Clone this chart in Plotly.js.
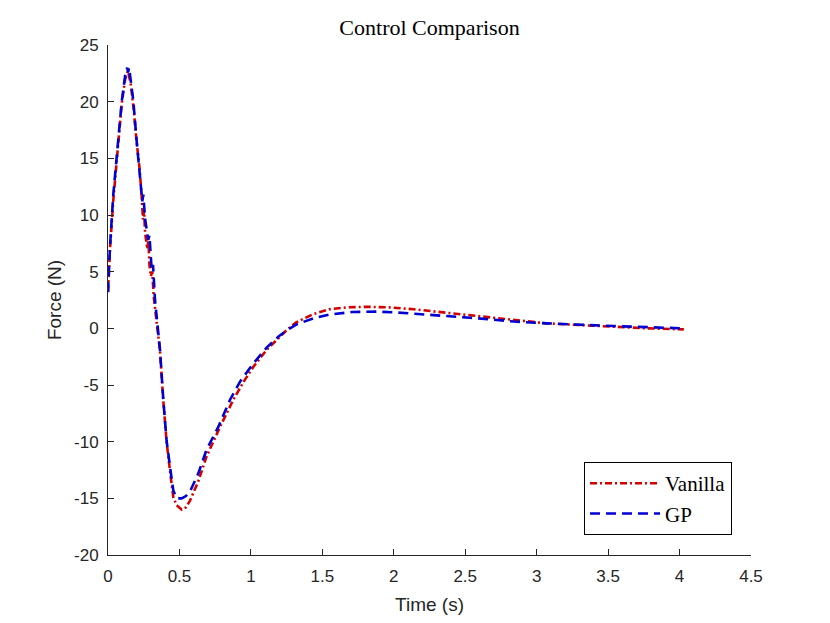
<!DOCTYPE html>
<html>
<head>
<meta charset="utf-8">
<script src="https://cdn.plot.ly/plotly-3.0.1.min.js"></script>
<style>html,body{margin:0;padding:0;background:#fff;}#chart{width:830px;height:623px;}</style>
</head>
<body>
<div id="chart"></div>
<script>
// Vanilla controller force (N) vs time (s)
const vanillaT = [0, 0.014, 0.037, 0.072, 0.096, 0.12, 0.14, 0.16, 0.18, 0.2, 0.22, 0.235, 0.245, 0.252, 0.26, 0.275, 0.283, 0.29, 0.3, 0.31, 0.32, 0.34, 0.364, 0.387, 0.41, 0.434, 0.457, 0.48, 0.516, 0.545, 0.574, 0.632, 0.69, 0.784, 0.877, 0.95, 1.017, 1.11, 1.2, 1.26, 1.32, 1.437, 1.55, 1.67, 1.81, 1.97, 2.14, 2.37, 2.6, 2.84, 3.07, 3.3, 3.54, 3.77, 4.03];
const vanillaF = [3.2, 7.0, 11.3, 16.4, 19.8, 22.0, 22.7, 21.5, 19.3, 16.5, 14.2, 11.8, 9.6, 10.4, 8.4, 7.0, 7.8, 5.6, 4.6, 5.0, 2.8, 0.6, -2.0, -6.4, -10.0, -12.6, -14.9, -15.6, -16.0, -15.8, -15.2, -13.5, -11.3, -8.7, -6.3, -4.7, -3.4, -1.9, -0.75, -0.05, 0.55, 1.26, 1.68, 1.85, 1.9, 1.85, 1.68, 1.38, 1.02, 0.73, 0.44, 0.29, 0.14, 0.0, -0.09];

// GP controller force (N) vs time (s)
const gpT = [0, 0.014, 0.037, 0.072, 0.096, 0.12, 0.134, 0.141, 0.147, 0.16, 0.177, 0.2, 0.224, 0.24, 0.247, 0.26, 0.282, 0.29, 0.306, 0.315, 0.329, 0.341, 0.364, 0.387, 0.41, 0.434, 0.457, 0.48, 0.516, 0.545, 0.574, 0.632, 0.69, 0.772, 0.854, 0.924, 1.017, 1.11, 1.2, 1.26, 1.32, 1.437, 1.55, 1.71, 1.88, 2.02, 2.2, 2.37, 2.53, 2.67, 2.84, 3.07, 3.3, 3.54, 3.81, 4.03];
const gpF = [3.2, 7.2, 11.8, 16.6, 20.0, 22.3, 23.0, 22.6, 23.0, 21.8, 20.1, 16.6, 13.7, 11.2, 11.8, 9.6, 7.8, 8.2, 5.1, 5.6, 2.5, 1.0, -1.9, -6.3, -9.9, -12.2, -14.3, -15.0, -15.0, -14.8, -14.4, -12.8, -10.7, -8.7, -6.3, -4.7, -3.1, -1.7, -0.65, -0.1, 0.35, 0.88, 1.22, 1.44, 1.47, 1.4, 1.26, 1.09, 0.94, 0.79, 0.6, 0.44, 0.3, 0.2, 0.09, 0.0];

const xTicks = [0, 0.5, 1, 1.5, 2, 2.5, 3, 3.5, 4, 4.5];
const xTickText = ['0', '0.5', '1', '1.5', '2', '2.5', '3', '3.5', '4', '4.5'];
const yTicks = [-20, -15, -10, -5, 0, 5, 10, 15, 20, 25];
const yTickText = ['-20', '-15', '-10', '-5', '0', '5', '10', '15', '20', '25'];

const traces = [
  {x: vanillaT, y: vanillaF, name: 'Vanilla', mode: 'lines', type: 'scatter',
   line: {color: 'rgb(210,0,0)', width: 2.6, dash: '7px,3px,2px,3px'}},
  {x: gpT, y: gpF, name: 'GP', mode: 'lines', type: 'scatter',
   line: {color: 'rgb(0,0,210)', width: 2.6, dash: '10px,6px'}}
];

const axisCommon = {
  showgrid: false, zeroline: false, showline: true, linecolor: '#262626', linewidth: 1,
  ticks: 'inside', ticklen: 6, tickcolor: '#262626', tickwidth: 1, mirror: false,
  tickfont: {family: 'Liberation Sans, Arial, sans-serif', size: 17, color: '#262626'},
  tickmode: 'array', automargin: false
};

const layout = {
  width: 830, height: 623,
  margin: {l: 108, r: 79, t: 45, b: 68},
  paper_bgcolor: '#fff', plot_bgcolor: '#fff',
  title: {text: 'Control Comparison', x: 0.5, xref: 'paper', xanchor: 'center',
          y: 1 - 27/623, yref: 'container', yanchor: 'middle',
          font: {family: 'Liberation Serif, Times New Roman, serif', size: 22, color: '#000'}},
  xaxis: Object.assign({}, axisCommon, {range: [0, 4.5], tickvals: xTicks, ticktext: xTickText,
          ticklabelstandoff: 6,
          title: {text: 'Time (s)', standoff: 12, font: {family: 'Liberation Sans, Arial, sans-serif', size: 19, color: '#262626'}}}),
  yaxis: Object.assign({}, axisCommon, {range: [-20, 25], tickvals: yTicks, ticktext: yTickText,
          ticklabelstandoff: 5,
          title: {text: 'Force (N)', standoff: 7, font: {family: 'Liberation Sans, Arial, sans-serif', size: 19, color: '#262626'}}}),
  legend: {x: 0.9705, xanchor: 'right', y: 0.039, yanchor: 'bottom',
           bgcolor: '#fff', bordercolor: '#000', borderwidth: 1, itemwidth: 70,
           font: {family: 'Liberation Serif, Times New Roman, serif', size: 21, color: '#000'},
           tracegroupgap: 0},
  showlegend: true
};

Plotly.newPlot('chart', traces, layout, {displayModeBar: false, staticPlot: true});
</script>
</body>
</html>
